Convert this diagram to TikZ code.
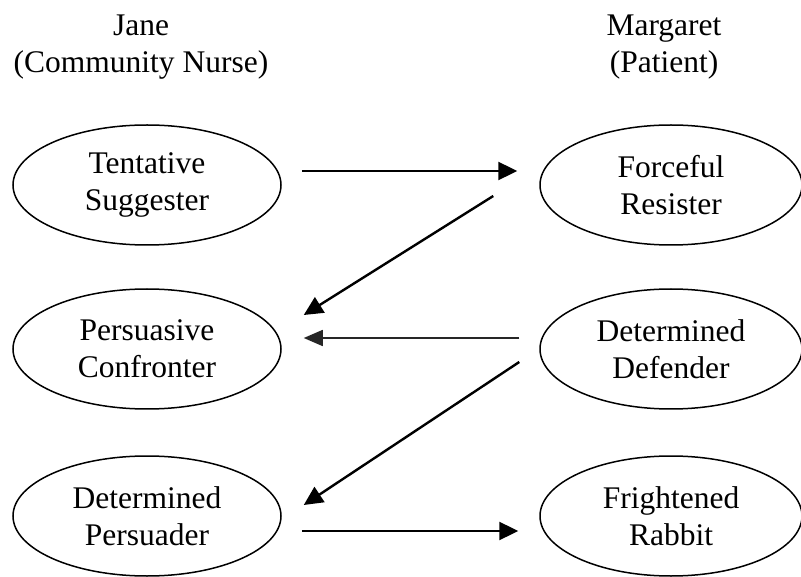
\documentclass[tikz,border=0pt]{standalone}
\usepackage{fontspec}
\setmainfont{Liberation Serif}
\usetikzlibrary{shapes.geometric,arrows.meta,calc}
\begin{document}
\begin{tikzpicture}[x=1pt,y=-1pt,
  every node/.style={font=\fontsize{31.5}{37}\selectfont, align=center, inner sep=0pt},
  role/.style={ellipse, draw, line width=1.5pt, minimum width=268pt, minimum height=120pt},
  rolertl/.style={role, minimum width=262pt},
  move/.style={line width=2.4pt, -{Triangle[length=19pt,width=18pt]}},
  moveweak/.style={line width=1.6pt, draw=black!85, -{Triangle[length=19pt,width=16pt]}}]
  \useasboundingbox (0,0) rectangle (801,577);
  \fill[white] (0,0) rectangle (801,577);

  % column headings
  \node (jane) at (141,47) {Jane\\(Community Nurse)};
  \node (marg) at (664,47) {Margaret\\(Patient)};

  % nurse roles
  \node[role] (ts) at (147,185) {Tentative\\Suggester};
  \node[role] (pc) at (147,349) {Persuasive\\Confronter};
  \node[role] (dp) at (147,516) {Determined\\Persuader};

  % patient roles
  \node[rolertl] (fr) at (671,185) {Forceful\\Resister};
  \node[rolertl] (dd) at (671,349) {Determined\\Defender};
  \node[rolertl] (rb) at (671,516) {Frightened\\Rabbit};

  % arrow end points
  \coordinate (a1s) at ($(ts.east)+(20,-14)$);
  \coordinate (a1e) at ($(fr.west)+(-22,-14)$);
  \coordinate (a2s) at ($(fr.west)+(-46,11)$);
  \coordinate (a2e) at ($(pc.east)+(22,-34)$);
  \coordinate (a3s) at ($(dd.west)+(-20,-11)$);
  \coordinate (a3e) at ($(pc.east)+(22,-11)$);
  \coordinate (a4s) at ($(dd.west)+(-20,13)$);
  \coordinate (a4e) at ($(dp.east)+(22,-11)$);
  \coordinate (a5s) at ($(dp.east)+(20,15)$);
  \coordinate (a5e) at ($(rb.west)+(-21,15)$);

  % interaction sequence
  \draw[move] (a1s) -- (a1e);
  \draw[move] (a2s) -- (a2e);
  \draw[moveweak] (a3s) -- (a3e);
  \draw[move] (a4s) -- (a4e);
  \draw[move] (a5s) -- (a5e);
\end{tikzpicture}
\end{document}
